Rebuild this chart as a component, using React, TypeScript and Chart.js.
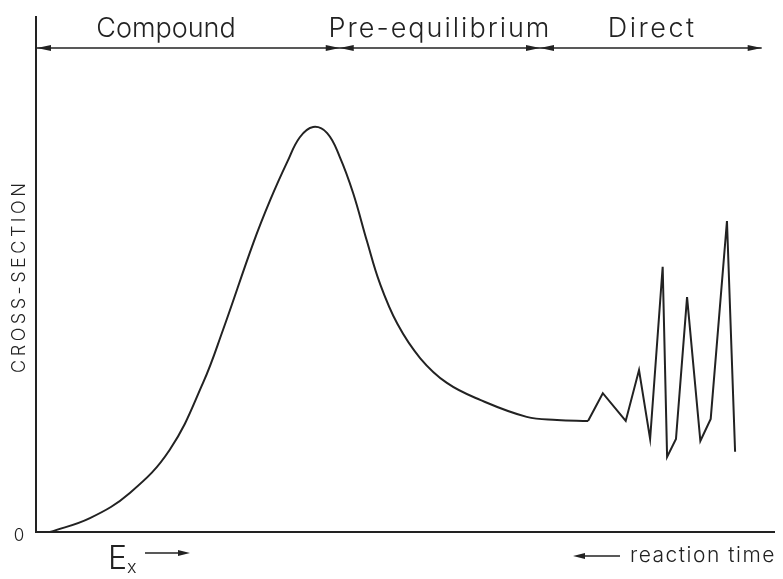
import React, { useEffect, useRef } from "react";
import { Chart, registerables } from "chart.js";

Chart.register(...registerables);

// Excitation-function sketch: smooth compound-nucleus resonance bump,
// a pre-equilibrium tail and jagged direct-reaction fluctuations.
const smoothX = [1.9, 7.3, 12.7, 18.1, 22.6, 25.3, 29.4, 31.7, 34.0, 35.7, 37.5, 39.4, 41.1, 42.9, 44.8, 46.5, 48.9, 52.0, 55.6, 60.1, 66.4, 70.5, 74.7];
const smoothY = [0, 2.7, 7.6, 16.0, 29.0, 39.3, 56.2, 64.6, 72.0, 76.8, 78.8, 77.6, 73.0, 66.0, 56.5, 48.5, 40.5, 33.8, 29.0, 25.7, 22.4, 21.8, 21.6];

const directX = [74.7, 76.7, 79.8, 81.6, 83.1, 84.8, 85.4, 86.6, 88.1, 89.9, 91.3, 93.5, 94.6];
const directY = [21.6, 27.0, 21.6, 31.5, 18.1, 51.6, 14.6, 18.1, 45.7, 17.7, 22.0, 60.5, 15.6];

// Reaction-mechanism regions along the top arrow (x units)
const regionLabels = ["Compound", "Pre-equilibrium", "Direct"];
const regionBounds = [0, 41.1, 68.2, 98.2];

const yAxisTitle = "CROSS-SECTION";
const zeroLabel = "0";
const xLeftLabel = "E";
const xLeftSub = "x";
const xRightLabel = "reaction time";

const INK = "#222";
const FONT = "Inter, 'DejaVu Sans', sans-serif";

function arrowHead(ctx: CanvasRenderingContext2D, tipX: number, y: number, dir: number, len = 14, half = 3) {
  ctx.beginPath();
  ctx.moveTo(tipX, y);
  ctx.lineTo(tipX - dir * len, y - half);
  ctx.lineTo(tipX - dir * len, y + half);
  ctx.closePath();
  ctx.fill();
}

function spacedText(ctx: CanvasRenderingContext2D, text: string, x: number, y: number, spacing: number) {
  (ctx as any).letterSpacing = spacing + "px";
  const w = ctx.measureText(text).width - spacing;
  ctx.textAlign = "left";
  ctx.fillText(text, x - w / 2, y);
  (ctx as any).letterSpacing = "0px";
}

const decorations = {
  id: "sketchDecorations",
  afterDraw(chart: Chart) {
    const ctx = chart.ctx;
    const { left, right, top, bottom } = chart.chartArea;
    const xs = chart.scales.x;
    ctx.save();
    ctx.strokeStyle = INK;
    ctx.fillStyle = INK;
    ctx.lineWidth = 2;

    // axes
    ctx.beginPath();
    ctx.moveTo(left, top - 2);
    ctx.lineTo(left, bottom);
    ctx.lineTo(right, bottom);
    ctx.stroke();

    // region arrow
    const arrowY = 48;
    const bx = regionBounds.map((v) => xs.getPixelForValue(v));
    ctx.lineWidth = 1.5;
    ctx.beginPath();
    ctx.moveTo(bx[0], arrowY);
    ctx.lineTo(bx[bx.length - 1], arrowY);
    ctx.stroke();
    arrowHead(ctx, bx[0] + 1, arrowY, -1);
    for (let i = 1; i < bx.length - 1; i++) {
      arrowHead(ctx, bx[i], arrowY, 1);
      arrowHead(ctx, bx[i], arrowY, -1);
    }
    arrowHead(ctx, bx[bx.length - 1], arrowY, 1);

    ctx.textBaseline = "alphabetic";
    ctx.font = `300 27px ${FONT}`;
    const labelCenters = [166, 439, 651];
    const spacings = [0, 2, 2.5];
    regionLabels.forEach((t, i) => spacedText(ctx, t, labelCenters[i], 37, spacings[i]));

    // y axis title
    ctx.save();
    ctx.translate(25, 278);
    ctx.rotate(-Math.PI / 2);
    ctx.font = `300 18px ${FONT}`;
    spacedText(ctx, yAxisTitle, 0, 0, 3.5);
    ctx.restore();

    // zero
    ctx.font = `300 17px ${FONT}`;
    ctx.textAlign = "center";
    ctx.fillText(zeroLabel, 19, 541);

    // E_x with arrow
    ctx.font = `300 32px ${FONT}`;
    ctx.textAlign = "left";
    ctx.fillText(xLeftLabel, 108, 569);
    ctx.font = `300 18px ${FONT}`;
    ctx.fillText(xLeftSub, 127, 573);
    ctx.lineWidth = 1.5;
    ctx.beginPath();
    ctx.moveTo(145, 553);
    ctx.lineTo(180, 553);
    ctx.stroke();
    arrowHead(ctx, 190, 553, 1, 12, 3);

    // reaction time with arrow
    ctx.beginPath();
    ctx.moveTo(583, 556);
    ctx.lineTo(620, 556);
    ctx.stroke();
    arrowHead(ctx, 573, 556, -1, 12, 3);
    ctx.font = `300 21px ${FONT}`;
    (ctx as any).letterSpacing = "1.5px";
    ctx.fillText(xRightLabel, 630, 562);
    (ctx as any).letterSpacing = "0px";

    ctx.restore();
  },
};

export default function App() {
  const ref = useRef<HTMLCanvasElement>(null);

  useEffect(() => {
    if (!ref.current) return;
    const chart = new Chart(ref.current, {
      type: "line",
      data: {
        datasets: [
          {
            data: smoothX.map((x, i) => ({ x, y: smoothY[i] })),
            borderColor: INK,
            borderWidth: 2,
            pointRadius: 0,
            tension: 0.4,
            fill: false,
          },
          {
            data: directX.map((x, i) => ({ x, y: directY[i] })),
            borderColor: INK,
            borderWidth: 2,
            pointRadius: 0,
            tension: 0,
            fill: false,
          },
        ],
      },
      options: {
        responsive: false,
        animation: false,
        layout: { padding: { left: 36, top: 18, right: 8, bottom: 47 } },
        plugins: { legend: { display: false }, tooltip: { enabled: false } },
        scales: {
          x: { type: "linear", min: 0, max: 100, display: false },
          y: { type: "linear", min: 0, max: 100, display: false },
        },
      },
      plugins: [decorations],
    });
    return () => chart.destroy();
  }, []);

  return (
    <div style={{ position: "fixed", left: 0, top: 0, width: 783, height: 579, background: "#fff" }}>
      <canvas ref={ref} width={783} height={579} />
    </div>
  );
}
